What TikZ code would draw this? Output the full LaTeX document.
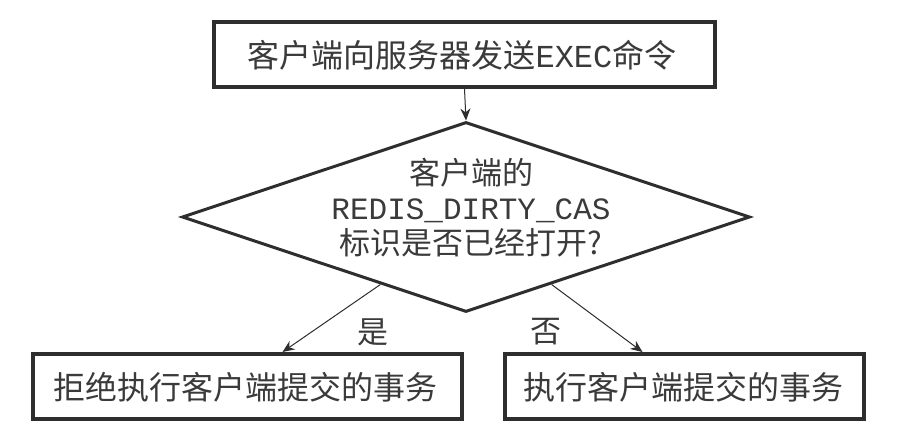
\documentclass[tikz,border=0pt]{standalone}
\usepackage{fontspec}
\setmainfont{Noto Sans CJK SC}
\setmonofont{Liberation Mono}
\usetikzlibrary{shapes.geometric,arrows.meta,calc}
\definecolor{ln}{HTML}{2E2E2E}
\definecolor{tx}{HTML}{3A3A3A}
\begin{document}
\begin{tikzpicture}[x=1pt,y=-1pt,
  box/.style={draw=ln,line width=4pt,rectangle,inner sep=0pt},
  dia/.style={draw=ln,line width=3pt,diamond,inner sep=0pt},
  txt/.style={text=tx,inner sep=0pt,font=\fontsize{32}{36}\selectfont},
  lbl/.style={text=tx,inner sep=0pt,font=\fontsize{31}{35}\selectfont},
  arr/.style={draw=ln,line width=1pt,-{Stealth[length=12pt,width=10pt]}},
]
\useasboundingbox[fill=white] (0,0) rectangle (906,441);
\node[box,minimum width=501pt,minimum height=65pt] (top) at (464.5,54.5) {};
\node[txt] (toptext) at (462,55) {客户端向服务器发送{\ttfamily EXEC}命令};
\node[dia,minimum width=568pt,minimum height=190pt] (d) at (466,217) {};
\node[lbl,align=center] (dtext) at (471,208) {客户端的\\{\ttfamily REDIS\_DIRTY\_CAS}\\标识是否已经打开?};
\node[box,minimum width=429pt,minimum height=65pt] (lb) at (247.5,386.5) {};
\node[txt,anchor=west] (lbtext) at (53,387) {拒绝执行客户端提交的事务};
\node[box,minimum width=359pt,minimum height=65pt] (rb) at (684.5,386.5) {};
\node[txt,anchor=west] (rbtext) at (523,387) {执行客户端提交的事务};
\coordinate (ls) at ($(d.south)!0.3!(d.west)$);
\coordinate (rs) at ($(d.south)!0.3!(d.east)$);
\coordinate (le) at ([xshift=35pt]lb.north);
\coordinate (re) at ([xshift=-42pt]rb.north);
\draw[arr] (top.south) -- (d.north);
\draw[arr] (ls) -- (le);
\draw[arr] (rs) -- (re);
\node[lbl] (yes) at (373,332) {是};
\node[lbl] (no) at (546,332) {否};
\end{tikzpicture}
\end{document}
